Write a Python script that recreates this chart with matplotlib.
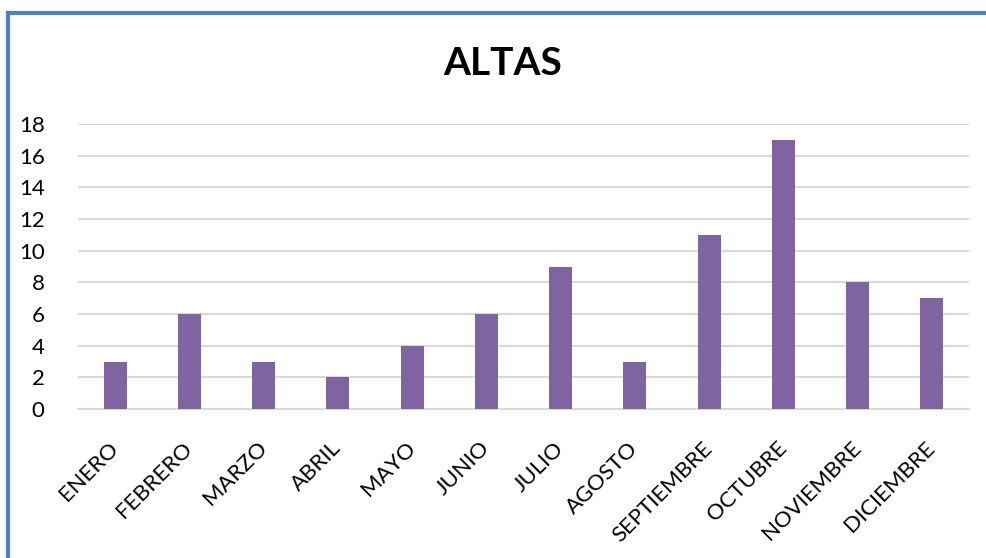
import matplotlib.pyplot as plt
from matplotlib.patches import Rectangle

meses = ["ENERO", "FEBRERO", "MARZO", "ABRIL", "MAYO", "JUNIO", "JULIO",
         "AGOSTO", "SEPTIEMBRE", "OCTUBRE", "NOVIEMBRE", "DICIEMBRE"]
altas = [3, 6, 3, 2, 4, 6, 9, 3, 11, 17, 8, 7]
yticks = [0, 2, 4, 6, 8, 10, 12, 14, 16, 18]

plt.rcParams['font.family'] = ['Lato', 'DejaVu Sans']

fig = plt.figure(figsize=(9.86, 5.58), dpi=100)
ax = fig.add_axes([0.0791, 0.267, 0.9037, 0.5108])

x = range(len(meses))
ax.bar(x, altas, width=0.31, color='#8064A2', zorder=3)

ax.set_ylim(0, 18)
ax.set_xlim(-0.5, len(meses) - 0.5)
ax.set_yticks(yticks)
ax.set_xticks(list(x))
ax.set_xticklabels(meses, rotation=45, ha='right', va='center', rotation_mode='anchor')
ax.tick_params(axis='both', length=0, labelsize=16)
ax.tick_params(axis='y', pad=24)
ax.tick_params(axis='x', pad=26)
ax.grid(axis='y', color='#D9D9D9', linewidth=1.5, zorder=0)
for s in ['top', 'right', 'left']:
    ax.spines[s].set_visible(False)
ax.spines['bottom'].set_color('#D9D9D9')
ax.spines['bottom'].set_linewidth(1.5)

fig.text(0.51, 0.886, "ALTAS", ha='center', va='center', fontsize=28, fontweight='bold')

# marco azul arriba e izquierda
fig.add_artist(Rectangle((0.0081, -0.05), 1.1, 1.026, transform=fig.transFigure,
                         fill=False, edgecolor='#4F81BD', linewidth=3))

fig.savefig("out.png", dpi=100)
